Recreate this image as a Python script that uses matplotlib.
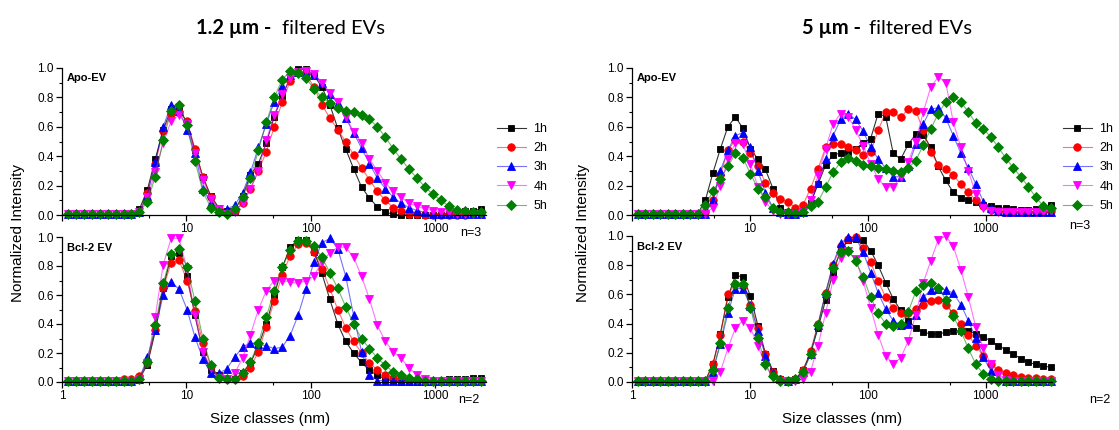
import matplotlib.pyplot as plt
from matplotlib.ticker import FixedLocator, NullFormatter

plt.rcParams['font.family'] = ['Liberation Sans', 'DejaVu Sans']

# DLS size classes (nm)
size_classes = [1.117, 1.294, 1.499, 1.736, 2.01, 2.328, 2.696, 3.122, 3.615,
                4.187, 4.849, 5.615, 6.503, 7.531, 8.721, 10.1, 11.7, 13.54,
                15.69, 18.17, 21.04, 24.36, 28.21, 32.67, 37.84, 43.82, 50.75,
                58.77, 68.06, 78.82, 91.28, 105.7, 122.4, 141.8, 164.2, 190.1,
                220.2, 255.0, 295.3, 342.0, 396.1, 458.7, 531.2, 615.1, 712.4,
                825.0, 955.4, 1106, 1281, 1484, 1718, 1990, 2305, 2669, 3091, 3580]
hours = ['1h', '2h', '3h', '4h', '5h']

# 1.2 um filtered, Apo-EV
apo12_1h = [0.01, 0.01, 0.01, 0.01, 0.01, 0.01, 0.01, 0.01, 0.01,
            0.04, 0.17, 0.38, 0.58, 0.72, 0.72, 0.63, 0.44, 0.26, 0.13,
            0.05, 0.03, 0.03, 0.13, 0.27, 0.35, 0.49, 0.67, 0.81, 0.93,
            0.99, 0.99, 0.95, 0.87, 0.75, 0.59, 0.45, 0.315, 0.19, 0.115,
            0.055, 0.02, 0.005, 0.0, 0.0, 0.0, 0.0, 0.0, 0.0, 0.01,
            0.02, 0.03, 0.03, 0.04]
apo12_2h = [0.01, 0.01, 0.01, 0.01, 0.01, 0.01, 0.01, 0.01, 0.01,
            0.02, 0.15, 0.35, 0.57, 0.69, 0.70, 0.64, 0.45, 0.26, 0.12,
            0.04, 0.02, 0.03, 0.08, 0.18, 0.30, 0.43, 0.60, 0.77, 0.91,
            0.97, 0.96, 0.87, 0.75, 0.66, 0.58, 0.50, 0.41, 0.32, 0.24,
            0.16, 0.10, 0.05, 0.025, 0.01, 0.01, 0.0, 0.0, 0.0, 0.0,
            0.0, 0.0, 0.01, 0.01]
apo12_3h = [0.01, 0.01, 0.01, 0.01, 0.01, 0.01, 0.01, 0.01, 0.01,
            0.02, 0.13, 0.36, 0.60, 0.75, 0.71, 0.58, 0.42, 0.18, 0.08,
            0.03, 0.04, 0.065, 0.15, 0.29, 0.46, 0.62, 0.77, 0.88, 0.95,
            0.97, 0.96, 0.95, 0.90, 0.82, 0.76, 0.66, 0.56, 0.455, 0.35,
            0.25, 0.18, 0.12, 0.08, 0.05, 0.03, 0.02, 0.01, 0.01, 0.01,
            0.01, 0.01, 0.01, 0.01]
apo12_4h = [0.01, 0.01, 0.01, 0.01, 0.01, 0.01, 0.01, 0.01, 0.01,
            0.02, 0.12, 0.29, 0.49, 0.64, 0.68, 0.62, 0.42, 0.24, 0.11,
            0.04, 0.01, 0.02, 0.08, 0.175, 0.30, 0.51, 0.68, 0.82, 0.93,
            0.97, 0.98, 0.96, 0.90, 0.83, 0.77, 0.67, 0.565, 0.49, 0.38,
            0.30, 0.22, 0.16, 0.12, 0.08, 0.06, 0.04, 0.03, 0.02, 0.02,
            0.01, 0.01, 0.01, 0.01]
apo12_5h = [0.01, 0.01, 0.01, 0.01, 0.01, 0.01, 0.01, 0.01, 0.01,
            0.02, 0.09, 0.26, 0.51, 0.71, 0.75, 0.61, 0.37, 0.16, 0.05,
            0.02, 0.01, 0.04, 0.12, 0.25, 0.44, 0.63, 0.80, 0.92, 0.98,
            0.965, 0.93, 0.86, 0.80, 0.76, 0.73, 0.71, 0.70, 0.68, 0.65,
            0.60, 0.53, 0.45, 0.38, 0.31, 0.25, 0.19, 0.14, 0.10, 0.06,
            0.035, 0.03, 0.02, 0.02]

# 1.2 um filtered, Bcl-2 EV
bcl12_1h = [0.01, 0.01, 0.01, 0.01, 0.01, 0.01, 0.01, 0.01, 0.01,
            0.02, 0.12, 0.35, 0.65, 0.87, 0.89, 0.73, 0.46, 0.21, 0.08,
            0.05, 0.02, 0.02, 0.06, 0.13, 0.25, 0.40, 0.60, 0.79, 0.93,
            0.98, 0.98, 0.90, 0.75, 0.57, 0.40, 0.28, 0.20, 0.135, 0.08,
            0.045, 0.02, 0.01, 0.0, 0.0, 0.0, 0.0, 0.0, 0.01, 0.02,
            0.02, 0.02, 0.03, 0.03]
bcl12_2h = [0.01, 0.01, 0.01, 0.01, 0.01, 0.01, 0.01, 0.02, 0.02,
            0.04, 0.13, 0.36, 0.65, 0.82, 0.84, 0.70, 0.49, 0.27, 0.11,
            0.04, 0.02, 0.02, 0.04, 0.10, 0.21, 0.38, 0.56, 0.74, 0.87,
            0.95, 0.96, 0.90, 0.78, 0.645, 0.50, 0.375, 0.28, 0.20, 0.13,
            0.085, 0.05, 0.03, 0.02, 0.01, 0.01, 0.01, 0.01, 0.01, 0.01,
            0.01, 0.01, 0.01, 0.01]
bcl12_3h = [0.01, 0.01, 0.01, 0.01, 0.01, 0.01, 0.01, 0.01, 0.01,
            0.02, 0.17, 0.36, 0.60, 0.69, 0.64, 0.50, 0.31, 0.16, 0.06,
            0.06, 0.09, 0.17, 0.24, 0.27, 0.26, 0.25, 0.23, 0.24, 0.32,
            0.46, 0.64, 0.83, 0.96, 0.99, 0.92, 0.73, 0.46, 0.21, 0.05,
            0.01, 0.01, 0.01, 0.01, 0.01, 0.01, 0.01, 0.01, 0.01, 0.01,
            0.01, 0.01, 0.01, 0.01]
bcl12_4h = [0.01, 0.01, 0.01, 0.01, 0.01, 0.01, 0.01, 0.01, 0.01,
            0.02, 0.13, 0.45, 0.81, 0.99, 0.99, 0.78, 0.46, 0.21, 0.10,
            0.03, 0.02, 0.06, 0.165, 0.325, 0.50, 0.63, 0.70, 0.70, 0.69,
            0.68, 0.70, 0.73, 0.83, 0.89, 0.93, 0.93, 0.86, 0.73, 0.57,
            0.39, 0.28, 0.21, 0.165, 0.095, 0.05, 0.02, 0.01, 0.01, 0.01,
            0.01, 0.01, 0.01, 0.01]
bcl12_5h = [0.01, 0.01, 0.01, 0.01, 0.01, 0.01, 0.01, 0.01, 0.01,
            0.02, 0.14, 0.39, 0.68, 0.88, 0.92, 0.79, 0.56, 0.30, 0.115,
            0.03, 0.02, 0.02, 0.06, 0.14, 0.27, 0.45, 0.63, 0.79, 0.91,
            0.97, 0.97, 0.94, 0.86, 0.755, 0.645, 0.52, 0.40, 0.30, 0.23,
            0.165, 0.115, 0.07, 0.045, 0.03, 0.02, 0.01, 0.01, 0.01, 0.01,
            0.01, 0.01, 0.01, 0.01]

# 5 um filtered, Apo-EV
apo5_1h = [0.01, 0.01, 0.01, 0.01, 0.01, 0.01, 0.01, 0.01, 0.01,
           0.10, 0.285, 0.45, 0.60, 0.667, 0.59, 0.45, 0.38, 0.31, 0.18,
           0.05, 0.02, 0.02, 0.03, 0.08, 0.21, 0.34, 0.41, 0.42, 0.43,
           0.45, 0.49, 0.52, 0.69, 0.67, 0.42, 0.38, 0.48, 0.55, 0.545,
           0.46, 0.33, 0.235, 0.155, 0.115, 0.10, 0.09, 0.07, 0.06, 0.05,
           0.045, 0.04, 0.035, 0.035, 0.04, 0.05, 0.07]
apo5_2h = [0.01, 0.01, 0.01, 0.01, 0.01, 0.01, 0.01, 0.01, 0.01,
           0.02, 0.10, 0.27, 0.44, 0.51, 0.50, 0.42, 0.33, 0.22, 0.15,
           0.11, 0.09, 0.05, 0.07, 0.18, 0.315, 0.46, 0.485, 0.485, 0.46,
           0.44, 0.41, 0.43, 0.575, 0.70, 0.70, 0.665, 0.72, 0.71, 0.575,
           0.43, 0.34, 0.31, 0.27, 0.21, 0.155, 0.10, 0.06, 0.035, 0.025,
           0.02, 0.02, 0.02, 0.02, 0.02, 0.02, 0.03]
apo5_3h = [0.01, 0.01, 0.01, 0.01, 0.01, 0.01, 0.01, 0.01, 0.01,
           0.01, 0.10, 0.30, 0.44, 0.54, 0.56, 0.46, 0.30, 0.15, 0.05,
           0.02, 0.01, 0.01, 0.02, 0.08, 0.22, 0.38, 0.54, 0.65, 0.69,
           0.65, 0.57, 0.46, 0.38, 0.32, 0.26, 0.26, 0.33, 0.48, 0.62,
           0.72, 0.73, 0.66, 0.54, 0.42, 0.32, 0.21, 0.09, 0.05, 0.03,
           0.02, 0.02, 0.02, 0.02, 0.02, 0.02, 0.02]
apo5_4h = [0.01, 0.01, 0.01, 0.01, 0.01, 0.01, 0.01, 0.01, 0.01,
           0.01, 0.05, 0.20, 0.38, 0.49, 0.48, 0.35, 0.19, 0.09, 0.03,
           0.01, 0.01, 0.01, 0.02, 0.10, 0.27, 0.45, 0.62, 0.69, 0.67,
           0.58, 0.47, 0.35, 0.245, 0.19, 0.19, 0.26, 0.36, 0.50, 0.70,
           0.87, 0.94, 0.90, 0.63, 0.46, 0.30, 0.14, 0.05, 0.03, 0.02,
           0.02, 0.02, 0.02, 0.02, 0.02, 0.02, 0.03]
apo5_5h = [0.01, 0.01, 0.01, 0.01, 0.01, 0.01, 0.01, 0.01, 0.01,
           0.07, 0.16, 0.245, 0.33, 0.42, 0.39, 0.28, 0.18, 0.12, 0.05,
           0.02, 0.02, 0.015, 0.02, 0.06, 0.09, 0.19, 0.29, 0.36, 0.385,
           0.37, 0.34, 0.33, 0.32, 0.315, 0.30, 0.29, 0.32, 0.37, 0.475,
           0.585, 0.69, 0.77, 0.80, 0.77, 0.70, 0.625, 0.585, 0.53, 0.46,
           0.385, 0.32, 0.26, 0.19, 0.12, 0.06, 0.045]

# 5 um filtered, Bcl-2 EV
bcl5_1h = [0.01, 0.01, 0.01, 0.01, 0.01, 0.01, 0.01, 0.01, 0.01,
           0.01, 0.12, 0.33, 0.58, 0.73, 0.72, 0.59, 0.385, 0.195, 0.075,
           0.02, 0.01, 0.02, 0.08, 0.20, 0.37, 0.56, 0.75, 0.90, 0.97,
           0.98, 0.97, 0.90, 0.80, 0.68, 0.57, 0.49, 0.42, 0.37, 0.34,
           0.33, 0.33, 0.34, 0.35, 0.35, 0.35, 0.33, 0.31, 0.28, 0.25,
           0.22, 0.19, 0.16, 0.135, 0.12, 0.11, 0.10]
bcl5_2h = [0.01, 0.01, 0.01, 0.01, 0.01, 0.01, 0.01, 0.01, 0.01,
           0.01, 0.12, 0.32, 0.60, 0.67, 0.66, 0.53, 0.37, 0.19, 0.07,
           0.02, 0.01, 0.02, 0.08, 0.21, 0.40, 0.61, 0.80, 0.93, 0.98,
           0.99, 0.92, 0.82, 0.69, 0.58, 0.51, 0.47, 0.47, 0.50, 0.53,
           0.555, 0.56, 0.525, 0.47, 0.40, 0.325, 0.245, 0.18, 0.12, 0.085,
           0.065, 0.05, 0.035, 0.03, 0.025, 0.02, 0.02]
bcl5_3h = [0.01, 0.01, 0.01, 0.01, 0.01, 0.01, 0.01, 0.01, 0.01,
           0.01, 0.07, 0.26, 0.47, 0.64, 0.64, 0.52, 0.35, 0.18, 0.06,
           0.02, 0.01, 0.02, 0.07, 0.19, 0.39, 0.61, 0.81, 0.95, 0.99,
           0.99, 0.89, 0.75, 0.61, 0.50, 0.42, 0.39, 0.40, 0.46, 0.58,
           0.63, 0.64, 0.63, 0.61, 0.53, 0.42, 0.30, 0.17, 0.075, 0.03,
           0.01, 0.01, 0.01, 0.01, 0.01, 0.01, 0.01]
bcl5_4h = [0.01, 0.01, 0.01, 0.01, 0.01, 0.01, 0.01, 0.01, 0.01,
           0.01, 0.01, 0.07, 0.23, 0.37, 0.42, 0.37, 0.25, 0.11, 0.03,
           0.01, 0.01, 0.01, 0.02, 0.07, 0.25, 0.47, 0.70, 0.85, 0.90,
           0.84, 0.69, 0.51, 0.32, 0.18, 0.125, 0.165, 0.28, 0.46, 0.68,
           0.83, 0.975, 1.0, 0.93, 0.77, 0.58, 0.375, 0.23, 0.12, 0.05,
           0.015, 0.01, 0.01, 0.01, 0.01, 0.01, 0.01]
bcl5_5h = [0.01, 0.01, 0.01, 0.01, 0.01, 0.01, 0.01, 0.01, 0.01,
           0.01, 0.08, 0.27, 0.51, 0.67, 0.67, 0.51, 0.30, 0.12, 0.04,
           0.01, 0.01, 0.02, 0.07, 0.19, 0.39, 0.60, 0.78, 0.89, 0.90,
           0.83, 0.72, 0.58, 0.47, 0.40, 0.385, 0.40, 0.48, 0.62, 0.665,
           0.675, 0.645, 0.565, 0.45, 0.35, 0.23, 0.12, 0.055, 0.02, 0.01,
           0.01, 0.01, 0.01, 0.01, 0.01, 0.01, 0.01]

colors = ['#000000', '#ff0000', '#0000ff', '#ff00ff', '#008000']
line_colors = [(0, 0, 0, 0.8), (1, 0, 0, 0.55), (0, 0, 1, 0.55),
               (1, 0, 1, 0.55), (0, 0.5, 0, 0.55)]
markers = ['s', 'o', '^', 'v', 'D']
msizes = [4.8, 5.4, 5.6, 5.6, 4.8]

W, H = 1119, 430
fig = plt.figure(figsize=(W / 100, H / 100), dpi=100)


def px_axes(x0, x1, y0, y1):
    return fig.add_axes([x0 / W, 1 - y1 / H, (x1 - x0) / W, (y1 - y0) / H])


panels = [
    ((62, 486, 68, 215), 2550, 'Apo-EV', [apo12_1h, apo12_2h, apo12_3h, apo12_4h, apo12_5h], True),
    ((62, 486, 237, 382), 2550, 'Bcl-2 EV', [bcl12_1h, bcl12_2h, bcl12_3h, bcl12_4h, bcl12_5h], False),
    ((632, 1052, 68, 215), 3650, 'Apo-EV', [apo5_1h, apo5_2h, apo5_3h, apo5_4h, apo5_5h], True),
    ((632, 1052, 236, 382), 3650, 'Bcl-2 EV', [bcl5_1h, bcl5_2h, bcl5_3h, bcl5_4h, bcl5_5h], False),
]

for box, xmax, label, series, top in panels:
    ax = px_axes(*box)
    for vals, c, lc, m, ms, h in zip(series, colors, line_colors, markers, msizes, hours):
        ax.plot(size_classes[:len(vals)], vals, color=lc, lw=0.8, marker=m, ms=ms,
                mfc=c, mec=c, mew=0.6, label=h, clip_on=False)
    ax.set_xscale('log')
    ax.set_xlim(1, xmax)
    ax.set_ylim(0, 1.0)
    ax.xaxis.set_major_locator(FixedLocator([1, 10, 100, 1000]))
    ax.xaxis.set_minor_locator(FixedLocator([5, 50, 500]))
    ax.xaxis.set_minor_formatter(NullFormatter())
    ax.set_xticklabels(['' if top else '1', '10', '100', '1000'])
    ax.set_yticks([0, 0.2, 0.4, 0.6, 0.8, 1.0])
    ax.set_yticklabels(['0.0', '0.2', '0.4', '0.6', '0.8', '1.0'])
    ax.yaxis.set_minor_locator(FixedLocator([0.1, 0.3, 0.5, 0.7, 0.9]))
    for s in ['top', 'right']:
        ax.spines[s].set_visible(False)
    for s in ['left', 'bottom']:
        ax.spines[s].set_linewidth(0.9)
    ax.tick_params(which='major', length=4, width=0.9, labelsize=8.5, pad=2)
    ax.tick_params(which='minor', length=2.5, width=0.8)
    ax.text(0.012, 0.93 if top else 0.925, label, transform=ax.transAxes,
            fontsize=8, fontweight='bold', va='center', ha='left')
    if top:
        lx = 497 if box[0] < 500 else 1063
        ax.legend(loc='upper left', bbox_to_anchor=(lx / W, 1 - 123 / H),
                  bbox_transform=fig.transFigure, frameon=False, fontsize=9,
                  handlelength=2.3, handletextpad=0.6, labelspacing=0.58,
                  borderpad=0, borderaxespad=0)

title_font = ['Lato', 'DejaVu Sans']
fig.text(271 / W, 1 - 28 / H, '1.2 µm -', family=title_font, fontsize=14.5,
         fontweight='bold', ha='right', va='center')
fig.text(282 / W, 1 - 28 / H, 'filtered EVs', family=title_font, fontsize=14.5,
         ha='left', va='center')
fig.text(861 / W, 1 - 28 / H, '5 µm -', family=title_font, fontsize=14.5,
         fontweight='bold', ha='right', va='center')
fig.text(869 / W, 1 - 28 / H, 'filtered EVs', family=title_font, fontsize=14.5,
         ha='left', va='center')

for x in (18, 583):
    fig.text(x / W, 1 - 233 / H, 'Normalized Intensity', rotation=90,
             fontsize=11, ha='center', va='center')
for x in (270, 842):
    fig.text(x / W, 1 - 419 / H, 'Size classes (nm)', fontsize=11,
             ha='center', va='center')

fig.text(471 / W, 1 - 233 / H, 'n=3', fontsize=9, ha='center', va='center')
fig.text(469 / W, 1 - 400 / H, 'n=2', fontsize=9, ha='center', va='center')
fig.text(1080 / W, 1 - 226 / H, 'n=3', fontsize=9, ha='center', va='center')
fig.text(1100 / W, 1 - 400 / H, 'n=2', fontsize=9, ha='center', va='center')

fig.savefig('out.png', dpi=100)
